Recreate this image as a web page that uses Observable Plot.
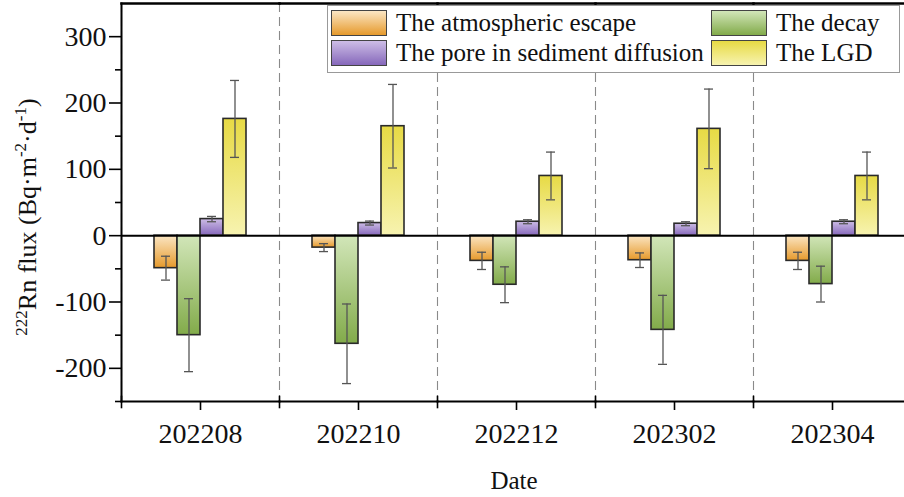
<!DOCTYPE html>
<html><head><meta charset="utf-8">
<script src="https://cdn.jsdelivr.net/npm/d3@7"></script>
<script src="https://cdn.jsdelivr.net/npm/@observablehq/plot@0.6"></script>
<style>
body{margin:0;background:#fff;overflow:hidden}
#wrap{position:relative;width:904px;height:497px;overflow:hidden;font-family:"Liberation Serif","Times New Roman",serif}
#legend{position:absolute;left:327px;top:5px;width:573px;height:68px;border:1px solid #999;background:#fff;box-sizing:border-box}
.item{position:absolute;display:flex;align-items:center;font-size:25px;color:#111;white-space:nowrap;line-height:26px}
.sw{width:56px;height:26px;border:1.5px solid #444;box-sizing:border-box;margin-right:9px}
</style></head><body><div id="wrap"></div>
<script>
const dates = ["202208", "202210", "202212", "202302", "202304"];
const series = ["The atmospheric escape", "The decay", "The pore in sediment diffusion", "The LGD"];
const atmospheric    = [-49, -18, -38, -37, -38];
const atmosphericErr = [18, 6, 13, 11, 13];
const decay          = [-150, -163, -74, -142, -73];
const decayErr       = [55, 60, 27, 52, 27];
const pore           = [25, 19, 21, 18, 21];
const poreErr        = [4, 3, 3, 3, 3];
const lgd            = [176, 165, 90, 161, 90];
const lgdErr         = [58, 63, 36, 60, 36];
const yTicks = [-200, -100, 0, 100, 200, 300];
const yMinorTicks = [-250, -150, -50, 50, 150, 250];

// gradient stops [top, bottom] per series
const gradients = [
  ["#fbe6c4", "#e69a2c"],
  ["#d2e6b9", "#82ab4a"],
  ["#cdbde6", "#8668bb"],
  ["#e7da44", "#f7f3b0"]
];

const values = [atmospheric, decay, pore, lgd];
const errs = [atmosphericErr, decayErr, poreErr, lgdErr];
const table = [];
dates.forEach((date, j) => series.forEach((s, i) => {
  const v = values[i][j], e = errs[i][j];
  table.push({date, series: s, idx: i, value: v, lo: v - e, hi: v + e});
}));

const fmt = d => (d < 0 ? "-" + Math.abs(d) : String(d));

const chart = Plot.plot({
  width: 904, height: 497,
  marginLeft: 120, marginRight: -8.5, marginTop: 3, marginBottom: 96,
  style: {fontFamily: "'Liberation Serif', 'Times New Roman', serif", background: "transparent", color: "#111"},
  fx: {domain: dates, padding: 0, label: null},
  x: {domain: series, paddingInner: 0, paddingOuter: 1.3, axis: null},
  y: {domain: [-250, 350]},
  marks: [
    Plot.frame({anchor: "left", stroke: "#8a8a8a", strokeWidth: 1.1, strokeDasharray: "8,6"}),
    ...series.map((s, i) => Plot.barY(table.filter(d => d.idx === i), {
      fx: "date", x: "series", y: "value",
      fill: `url(#grad${i})`, stroke: "#2a2a2a", strokeWidth: 1.6
    })),
    Plot.ruleX(table, {fx: "date", x: "series", y1: "lo", y2: "hi", stroke: "#555", strokeWidth: 1.3}),
    Plot.tickY(table, {fx: "date", x: "series", y: "lo", inset: 7, stroke: "#555", strokeWidth: 1.3}),
    Plot.tickY(table, {fx: "date", x: "series", y: "hi", inset: 7, stroke: "#555", strokeWidth: 1.3}),
    Plot.ruleY([0], {stroke: "#000", strokeWidth: 2}),
    Plot.frame({anchor: "top", stroke: "#000", strokeWidth: 2.5}),
    Plot.frame({anchor: "bottom", stroke: "#000", strokeWidth: 2}),
    Plot.frame({anchor: "left", stroke: "#000", strokeWidth: 1.6, insetTop: 393, insetBottom: -6}),
    Plot.frame({anchor: "left", stroke: "#000", strokeWidth: 2, facetAnchor: "left"}),
    Plot.axisY(yMinorTicks, {tickSize: 6, tickFormat: () => "", label: null, stroke: "#000", strokeWidth: 1.6}),
    Plot.axisY(yTicks, {tickSize: 12, tickPadding: 3, fontSize: 28, tickFormat: fmt, label: null, stroke: "#000", strokeWidth: 1.6}),
    Plot.axisFx({anchor: "bottom", tickSize: 9, tickPadding: 13, fontSize: 28, label: null, stroke: "#000", strokeWidth: 1.6})
  ]
});

const wrap = document.getElementById("wrap");
wrap.appendChild(chart);

// gradients
const svg = d3.select(chart);
const defs = svg.insert("defs", ":first-child");
gradients.forEach((g, i) => {
  const lg = defs.append("linearGradient").attr("id", `grad${i}`)
    .attr("x1", 0).attr("y1", 0).attr("x2", 0).attr("y2", 1);
  lg.append("stop").attr("offset", "0%").attr("stop-color", g[0]);
  lg.append("stop").attr("offset", "100%").attr("stop-color", g[1]);
});

// axis titles
const yl = svg.append("text")
  .attr("transform", "translate(36,217) rotate(-90)")
  .attr("text-anchor", "middle")
  .attr("font-size", 26)
  .attr("fill", "#111")
  .attr("font-family", "'Liberation Serif', 'Times New Roman', serif");
yl.append("tspan").attr("font-size", 17).attr("dy", -9).text("222");
yl.append("tspan").attr("dy", 9).text("Rn flux (Bq·m");
yl.append("tspan").attr("font-size", 17).attr("dy", -10).text("-2");
yl.append("tspan").attr("dy", 10).text("·d");
yl.append("tspan").attr("font-size", 17).attr("dy", -10).text("-1");
yl.append("tspan").attr("dy", 10).text(")");

svg.append("text")
  .attr("x", 514).attr("y", 489)
  .attr("text-anchor", "middle")
  .attr("font-size", 25)
  .attr("fill", "#111")
  .attr("font-family", "'Liberation Serif', 'Times New Roman', serif")
  .text("Date");

// legend
const legend = document.createElement("div");
legend.id = "legend";
const pos = [[3, 4], [383, 4], [3, 34], [383, 34]];
series.forEach((s, i) => {
  const it = document.createElement("div");
  it.className = "item";
  it.style.left = pos[i][0] + "px";
  it.style.top = pos[i][1] + "px";
  const sw = document.createElement("div");
  sw.className = "sw";
  sw.style.background = `linear-gradient(to bottom, ${gradients[i][0]}, ${gradients[i][1]})`;
  const tx = document.createElement("span");
  tx.textContent = s;
  it.appendChild(sw); it.appendChild(tx);
  legend.appendChild(it);
});
wrap.appendChild(legend);
</script></body></html>
